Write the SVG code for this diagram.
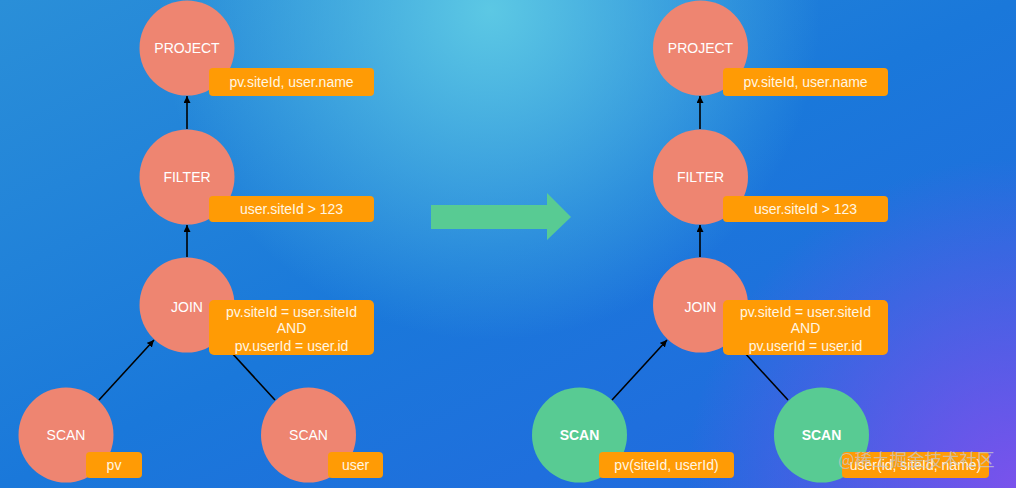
<svg xmlns="http://www.w3.org/2000/svg" width="1016" height="488" viewBox="0 0 1016 488">
<defs>
<linearGradient id="bg" x1="0" y1="0" x2="1" y2="1">
<stop offset="0" stop-color="#2A8FD8"/>
<stop offset="0.5" stop-color="#1A78DA"/>
<stop offset="1" stop-color="#2466E0"/>
</linearGradient>
<radialGradient id="glow" cx="490" cy="10" r="330" gradientUnits="userSpaceOnUse">
<stop offset="0" stop-color="#5CC8E4" stop-opacity="1"/>
<stop offset="1" stop-color="#5CC8E4" stop-opacity="0"/>
</radialGradient>
<radialGradient id="purp" cx="1016" cy="488" r="330" gradientUnits="userSpaceOnUse">
<stop offset="0" stop-color="#7A52EC" stop-opacity="1"/>
<stop offset="1" stop-color="#7A52EC" stop-opacity="0"/>
</radialGradient>
<marker id="ah" viewBox="0 0 10 10" refX="10" refY="5" markerWidth="7" markerHeight="7" orient="auto" markerUnits="userSpaceOnUse">
<path d="M0,0 L10,5 L0,10 z" fill="#000"/>
</marker>
<style>
.op{fill:#EE8571}
.sc{fill:#58CB93}
.lbl{fill:#FF9B05}
.t{font-family:"Liberation Sans",Arial,sans-serif;font-size:14px;fill:#FFFFFF;text-anchor:middle}
.tb{font-weight:bold}
.bt{font-family:"Liberation Sans",Arial,sans-serif;font-size:14px;fill:#FFF6E3;text-anchor:middle}
.e{stroke:#000;stroke-width:1.6;fill:none;marker-end:url(#ah)}
</style>
</defs>
<rect width="1016" height="488" fill="url(#bg)"/>
<rect width="1016" height="488" fill="url(#glow)"/>
<rect width="1016" height="488" fill="url(#purp)"/>

<g id="connectors">
<line class="e" x1="187" y1="129" x2="187" y2="96"/>
<line class="e" x1="187" y1="257" x2="187" y2="225"/>
<line class="e" x1="99" y1="400" x2="154" y2="340"/>
<line class="e" x1="275" y1="400" x2="220" y2="340"/>
<line class="e" x1="700" y1="129" x2="700" y2="96"/>
<line class="e" x1="700" y1="257" x2="700" y2="225"/>
<line class="e" x1="612" y1="400" x2="667" y2="340"/>
<line class="e" x1="788" y1="400" x2="733" y2="340"/>
</g>

<g id="transform-arrow">
<polygon points="431,205 547,205 547,193 571,217 547,240 547,229 431,229" fill="#58CB93"/>
</g>

<g id="l-project">
<circle class="op" cx="187" cy="48" r="47.5"/>
<text class="t" x="187" y="53">PROJECT</text>
<rect class="lbl" x="209" y="68" width="165" height="28" rx="4"/>
<text class="bt" x="291.5" y="87">pv.siteId, user.name</text>
</g>
<g id="l-filter">
<circle class="op" cx="187" cy="177" r="47.5"/>
<text class="t" x="187" y="182">FILTER</text>
<rect class="lbl" x="209" y="196" width="165" height="26" rx="4"/>
<text class="bt" x="291.5" y="214">user.siteId &gt; 123</text>
</g>
<g id="l-join">
<circle class="op" cx="187" cy="305" r="47.5"/>
<text class="t" x="187" y="312">JOIN</text>
<rect class="lbl" x="209" y="300" width="165" height="55" rx="5"/>
<text class="bt" x="291.5" y="317">pv.siteId = user.siteId</text>
<text class="bt" x="291.5" y="333">AND</text>
<text class="bt" x="291.5" y="351">pv.userId = user.id</text>
</g>
<g id="l-scan-pv">
<circle class="op" cx="66" cy="435" r="47.5"/>
<text class="t" x="66" y="440">SCAN</text>
<rect class="lbl" x="86" y="452" width="56" height="26" rx="4"/>
<text class="bt" x="114" y="470">pv</text>
</g>
<g id="l-scan-user">
<circle class="op" cx="308.5" cy="435" r="47.5"/>
<text class="t" x="308.5" y="440">SCAN</text>
<rect class="lbl" x="328" y="452" width="55" height="26" rx="4"/>
<text class="bt" x="355.5" y="470">user</text>
</g>

<g id="r-project">
<circle class="op" cx="700.5" cy="48" r="47.5"/>
<text class="t" x="700.5" y="53">PROJECT</text>
<rect class="lbl" x="723" y="68" width="165" height="28" rx="4"/>
<text class="bt" x="805.5" y="87">pv.siteId, user.name</text>
</g>
<g id="r-filter">
<circle class="op" cx="700.5" cy="177" r="47.5"/>
<text class="t" x="700.5" y="182">FILTER</text>
<rect class="lbl" x="723" y="196" width="165" height="26" rx="4"/>
<text class="bt" x="805.5" y="214">user.siteId &gt; 123</text>
</g>
<g id="r-join">
<circle class="op" cx="700.5" cy="305" r="47.5"/>
<text class="t" x="700.5" y="312">JOIN</text>
<rect class="lbl" x="723" y="300" width="165" height="55" rx="5"/>
<text class="bt" x="805.5" y="317">pv.siteId = user.siteId</text>
<text class="bt" x="805.5" y="333">AND</text>
<text class="bt" x="805.5" y="351">pv.userId = user.id</text>
</g>
<g id="r-scan-pv">
<circle class="sc" cx="579.5" cy="435" r="47.5"/>
<text class="t tb" x="579.5" y="440">SCAN</text>
<rect class="lbl" x="599" y="452" width="135" height="26" rx="4"/>
<text class="bt" x="666.5" y="470">pv(siteId, userId)</text>
</g>
<g id="r-scan-user">
<circle class="sc" cx="821.5" cy="435" r="47.5"/>
<text class="t tb" x="821.5" y="440">SCAN</text>
<rect class="lbl" x="842" y="452" width="147" height="26" rx="4"/>
<text class="bt" x="915.5" y="470">user(id, siteId, name)</text>
</g>

<text x="838" y="466" font-family="'Noto Sans CJK SC',sans-serif" font-size="17.5" fill="#C8C8C8" fill-opacity="0.75">@稀土掘金技术社区</text>
</svg>
